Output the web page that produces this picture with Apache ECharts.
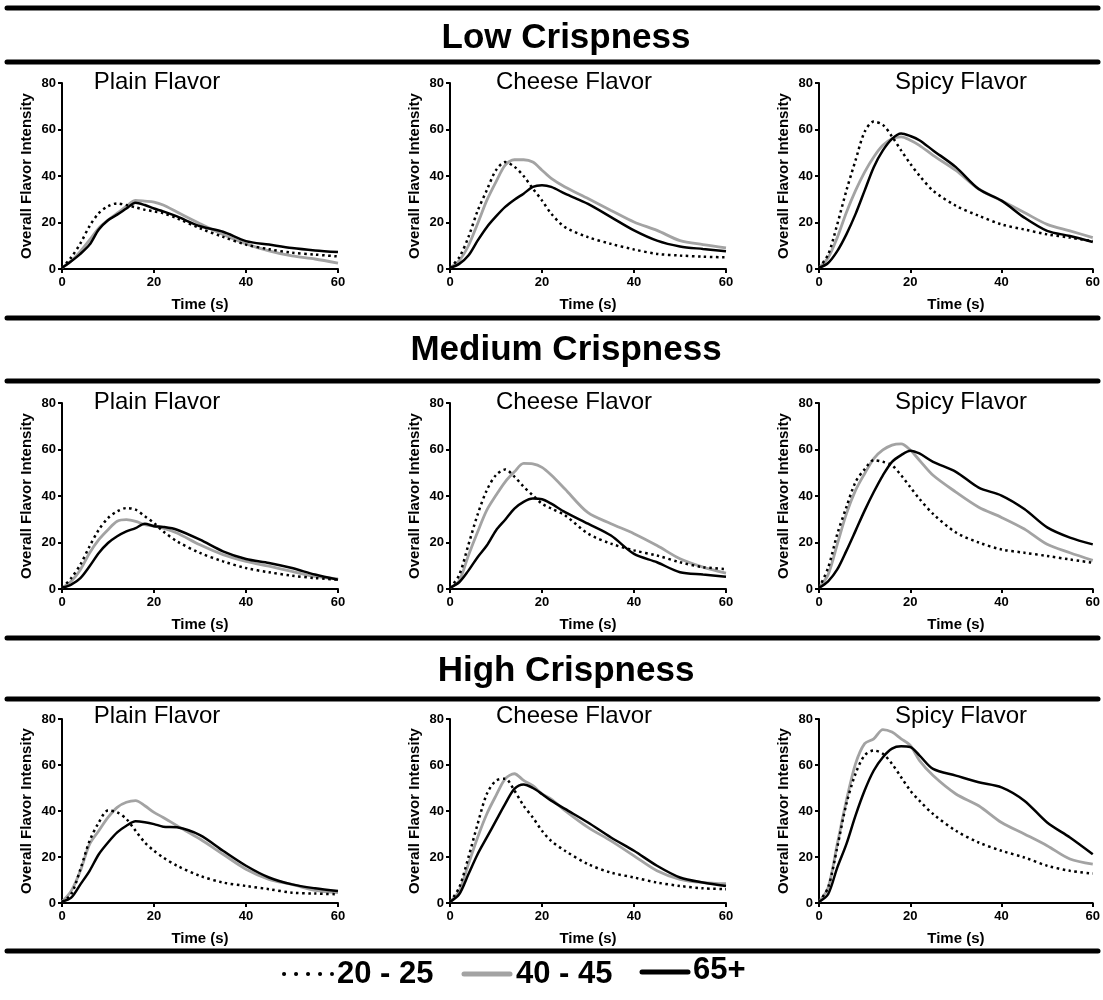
<!DOCTYPE html>
<html><head><meta charset="utf-8">
<script src="https://cdn.jsdelivr.net/npm/echarts@6/dist/echarts.min.js"></script>
<style>html,body{margin:0;padding:0;background:#fff}#c{width:1103px;height:1000px}</style>
</head><body><div id="c"></div>
<script>
const TIME = [0,2,4,6,8,10,12,14,16,18,20,22,25,30,35,40,45,50,55,60];
const GROUPS = ['20 - 25','40 - 45','65+'];
const ROWS = ['Low Crispness','Medium Crispness','High Crispness'];
const FLAVORS = ['Plain Flavor','Cheese Flavor','Spicy Flavor'];
const X_TICKS = [0,20,40,60];
const Y_TICKS = [0,20,40,60,80];

// Low crispness
const lowPlain20 = [0.5,5,11,18.5,24,27,28.2,27.5,26.5,25.5,24.8,24,21.8,17.5,13.8,10.5,8.5,7,6.2,5.4];
const lowPlain40 = [0.5,3.5,7.6,12.5,17.6,21,24,27,29.5,29.2,28.8,27.5,24.5,19.5,14.8,10.8,7.8,5.6,4.3,2.5];
const lowPlain65 = [0.5,3.3,6.5,10.5,17,21,23.4,26,28.5,27.5,26,24.8,22.6,18.4,16,12,10.5,9,8,7.3];
const lowCheese20 = [0.5,5,13.7,25,33.9,42.5,46,44,40,34.6,29.5,23.8,18,13.7,10.8,8.4,6.5,5.8,5.3,5];
const lowCheese40 = [0.5,3.6,10,19.5,29.5,37.5,44.7,47,47,46,42.5,39,35.3,30.3,25.2,20.2,16.6,12.2,10.5,9.1];
const lowCheese65 = [0.5,2.2,5.8,12.2,18,22.6,26.7,29.8,32.4,35.3,36,35.3,32.4,28,22.3,16.6,12.2,9.7,8.6,7.6];
const lowSpicy20 = [0.5,6.2,19.2,33.7,46.7,59,63.4,62,57,51,45.3,40.2,33.7,27.2,22.9,19.2,17,14.9,13.5,12];
const lowSpicy40 = [0.5,4.8,13.5,24.3,33.7,41.7,48.2,53.2,56,56.8,55.4,53.2,48.9,42.4,34.4,29.4,24.3,19.2,16.4,13.5];
const lowSpicy65 = [0.5,2.6,7.7,14.9,23.6,33.7,43.8,51,56,58.3,57.2,55.4,51,43.8,34.4,29.4,22.1,16.4,14.2,11.6];
// Medium crispness
const medPlain20 = [0.5,4.7,10.5,18.4,25.5,30.5,33.4,34.8,34.1,31.3,28.4,24.8,20.5,15.5,11.9,9,7.2,5.7,4.7,4];
const medPlain40 = [0.5,3.3,8.3,15.5,21.2,25.5,29.1,29.8,29.1,27.7,27,26.2,24.1,19,14.8,11.9,9.8,7.6,5.4,4.3];
const medPlain65 = [0.5,1.9,4.7,9.8,15.5,19.8,22.7,24.8,26.2,28.1,27,26.7,25.5,21.2,16.2,12.9,11.2,9,6.2,4];
const medCheese20 = [0.5,6,19,32,42.5,49,51.4,48.3,44,40.3,36.7,34.6,31.7,23.8,19.5,16.6,14.4,11.5,9.4,8.6];
const medCheese40 = [0.5,3.6,14.4,24.5,33.9,40.3,46.1,50.4,54,53.8,52.3,49,43,32.8,28.1,23.8,18.7,13,9.4,6.8];
const medCheese65 = [0.5,2.9,7.9,13.7,18.7,25.2,29.8,34.6,37.5,38.9,38.6,36.7,33.1,28.1,23,15.1,11.5,7.2,6.2,5.3];
const medSpicy20 = [0.5,9.1,23.6,35.2,46,51.5,55.4,54.7,53.2,48.9,43.8,38.8,32.3,24.3,20,17,15.6,14.2,12.7,11.3];
const medSpicy40 = [0.5,6.2,19.2,32.3,42.4,49.6,56.1,59.8,61.9,62.4,59.8,55.4,48.9,41.7,35.2,30.8,25.8,19.2,15.6,12.3];
const medSpicy65 = [0.5,3.3,8.4,16.4,25,33.7,41.7,48.9,54.7,57.6,59.5,58.3,54.7,50.4,43.6,40.2,34.4,26.5,22.1,19.2];
// High crispness
const highPlain20 = [0.5,3.8,14.7,27,35,40.2,39.4,36.5,31.4,26.3,22.7,19.8,16.2,11.8,8.9,7.4,6,4.5,4.1,3.8];
const highPlain40 = [0.5,5.2,14,25.6,31.4,37.2,41.6,43.8,44.5,42.3,39.4,37.2,33.6,27.8,21.2,14.7,10.3,8.1,5.5,4.5];
const highPlain65 = [0.5,2.3,8.1,14,21.2,26.3,30.7,33.6,35.5,35.1,34.3,33.2,32.9,29.5,22.7,16.2,11.1,8.1,6.4,5.2];
const highCheese20 = [0.5,6.7,19.8,34.3,47.4,53.2,54,48.9,42.3,37.2,31.4,27,22.7,16.9,13.2,11.1,8.9,7.4,6.4,6];
const highCheese40 = [0.5,5.2,16.9,28.5,38.7,46.7,54,56.2,53.3,51,47.4,45.2,40.2,32.9,27,20.5,14,10.3,8.9,8.4];
const highCheese65 = [0.5,3.8,12.5,21.2,28.5,35.8,43.1,49.6,51.5,50,47.4,44.5,40.9,35,28.5,22.7,16.2,11.1,8.9,7.4];
const highSpicy20 = [0.5,6.7,24.2,43.1,56.2,64.2,66.3,64.9,60.5,54.7,48.9,44.5,38.7,31.4,26.3,22.7,19.8,16.2,14,12.8];
const highSpicy40 = [0.5,6.7,25.6,44.5,60.5,69.3,71.4,75.4,74.3,71.4,68.5,62,55.4,47.4,42.3,35,30,24.9,19.1,16.9];
const highSpicy65 = [0.5,3.8,15.4,25.6,38,48.9,57.6,63.4,67.1,68.1,67.8,64.2,58.3,55.4,52.5,50.3,44.5,35,28.5,21.2];

const PANELS = [
  [[lowPlain20,lowPlain40,lowPlain65],[lowCheese20,lowCheese40,lowCheese65],[lowSpicy20,lowSpicy40,lowSpicy65]],
  [[medPlain20,medPlain40,medPlain65],[medCheese20,medCheese40,medCheese65],[medSpicy20,medSpicy40,medSpicy65]],
  [[highPlain20,highPlain40,highPlain65],[highCheese20,highCheese40,highCheese65],[highSpicy20,highSpicy40,highSpicy65]]
];

const FONT = '"Liberation Sans", Arial, Helvetica, sans-serif';
const colLeft = [62, 450, 819];
const colWidth = [276, 276, 275];
const rowTop = [83, 403, 719];
const rowHeight = [186, 186, 184];
const titleX = [157, 574, 961];
const titleY = [82, 402, 716];
const headerY = [38, 350, 671];
const ruleY = [8, 62, 318, 381, 638, 699, 951];

const grids = [], xAxes = [], yAxes = [], series = [], graphics = [];
const styles = [
  {color:'#000', width:2.5, type:[2.5,3.5], z:4},
  {color:'#a3a3a3', width:2.8, type:'solid', z:2},
  {color:'#000', width:2.5, type:'solid', z:3}
];
let idx = 0;
for (let r = 0; r < 3; r++) {
  for (let c = 0; c < 3; c++) {
    grids.push({left: colLeft[c], top: rowTop[r], width: colWidth[c], height: rowHeight[r], containLabel:false});
    xAxes.push({
      type:'value', gridIndex: idx, min: X_TICKS[0], max: X_TICKS[X_TICKS.length-1], interval: 20,
      name: 'Time (s)', nameLocation:'middle', nameGap: 28,
      nameTextStyle:{fontFamily:FONT, fontWeight:'bold', fontSize:15, color:'#000'},
      axisLine:{show:true, onZero:false, lineStyle:{color:'#000', width:2}},
      axisTick:{show:true, length:4, lineStyle:{color:'#000', width:2}},
      axisLabel:{fontFamily:FONT, fontWeight:'bold', fontSize:13, color:'#000', margin:7},
      splitLine:{show:false}
    });
    yAxes.push({
      type:'value', gridIndex: idx, min: Y_TICKS[0], max: Y_TICKS[Y_TICKS.length-1], interval: 20,
      name: 'Overall Flavor Intensity', nameLocation:'middle', nameGap: 28, nameRotate: 90,
      nameTextStyle:{fontFamily:FONT, fontWeight:'bold', fontSize:15, color:'#000'},
      axisLine:{show:true, lineStyle:{color:'#000', width:2}},
      axisTick:{show:true, length:4, lineStyle:{color:'#000', width:2}},
      axisLabel:{fontFamily:FONT, fontWeight:'bold', fontSize:13, color:'#000', margin:6},
      splitLine:{show:false}
    });
    const vals = PANELS[r][c];
    [1,0,2].forEach(g => {
      series.push({
        type:'line', name: GROUPS[g], xAxisIndex: idx, yAxisIndex: idx,
        data: TIME.map((t,i) => [t, vals[g][i]]),
        showSymbol:false, smooth:0.3, z: styles[g].z,
        lineStyle:{color: styles[g].color, width: styles[g].width, type: styles[g].type, cap:'butt'},
        silent:true, animation:false
      });
    });
    graphics.push({type:'text', x: titleX[c], y: titleY[r],
      style:{text: FLAVORS[c], font: '24px ' + FONT, fill:'#000', textAlign:'center', textVerticalAlign:'middle'}});
    idx++;
  }
  graphics.push({type:'text', x: 566, y: headerY[r],
    style:{text: ROWS[r], font: 'bold 35px ' + FONT, fill:'#000', textAlign:'center', textVerticalAlign:'middle'}});
}
ruleY.forEach(y => graphics.push({type:'line', shape:{x1:7, y1:y, x2:1098, y2:y},
  style:{stroke:'#000', lineWidth:5, lineCap:'round'}}));

// legend
const LY = 974;
graphics.push({type:'line', shape:{x1:284, y1:LY, x2:332, y2:LY},
  style:{stroke:'#000', lineWidth:4, lineCap:'round', lineDash:[0.1, 11.9]}});
graphics.push({type:'text', x:337, y:LY, style:{text: GROUPS[0], font:'bold 31px ' + FONT, fill:'#000', textVerticalAlign:'middle'}});
graphics.push({type:'line', shape:{x1:464, y1:LY, x2:510, y2:LY},
  style:{stroke:'#a3a3a3', lineWidth:5, lineCap:'round'}});
graphics.push({type:'text', x:516, y:LY, style:{text: GROUPS[1], font:'bold 31px ' + FONT, fill:'#000', textVerticalAlign:'middle'}});
graphics.push({type:'line', shape:{x1:642, y1:LY-2, x2:688, y2:LY-2},
  style:{stroke:'#000', lineWidth:5, lineCap:'round'}});
graphics.push({type:'text', x:693, y:LY-4, style:{text: GROUPS[2], font:'bold 31px ' + FONT, fill:'#000', textVerticalAlign:'middle'}});

const chart = echarts.init(document.getElementById('c'), null, {renderer:'canvas'});
chart.setOption({
  animation:false, backgroundColor:'#fff',
  grid: grids, xAxis: xAxes, yAxis: yAxes, series: series, graphic: graphics
});
</script></body></html>
